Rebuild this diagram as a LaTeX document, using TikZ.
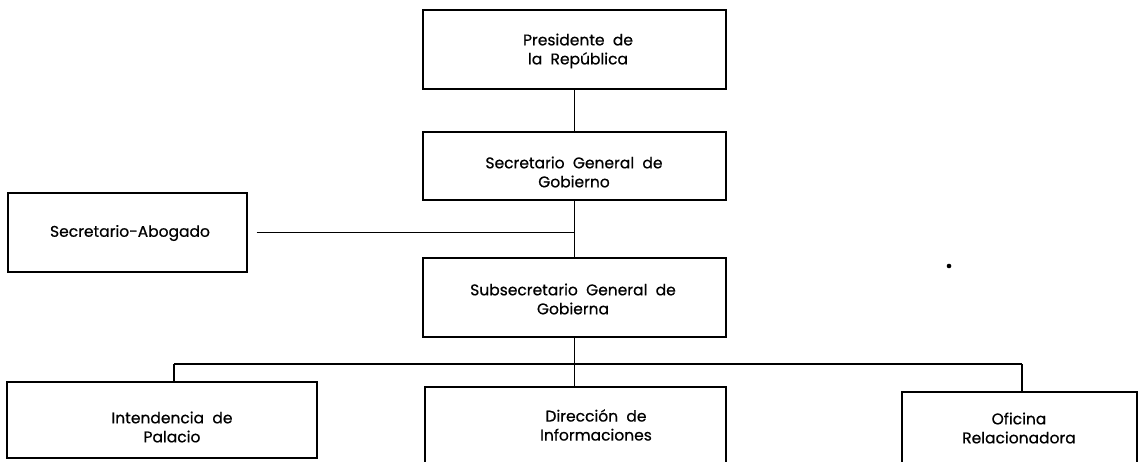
\documentclass[tikz,border=0pt]{standalone}
\usepackage{fontspec}
\setmainfont{Poppins}[FakeBold=0.6]
\begin{document}
\begin{tikzpicture}[x=1pt,y=-1pt,
  box/.style={draw=black, line width=1.1pt, rectangle, inner sep=0pt},
  lbl/.style={align=center, font=\fontsize{15.5}{19}\selectfont, inner sep=0pt},
  conn/.style={draw=black, line width=1.1pt}]
\useasboundingbox (0,0) rectangle (1145,462);
% boxes
\node[box, minimum width=303pt, minimum height=79pt] (pres) at (574.5,49.5) {};
\node[box, minimum width=303pt, minimum height=68pt] (sg) at (574.5,166) {};
\node[box, minimum width=239pt, minimum height=79pt] (abog) at (127.5,232.5) {};
\node[box, minimum width=303pt, minimum height=79pt] (sub) at (574.5,297.5) {};
\node[box, minimum width=310pt, minimum height=76pt] (int) at (162,420) {};
\node[box, minimum width=301pt, minimum height=113pt] (dir) at (575.5,443.5) {};
\node[box, minimum width=235pt, minimum height=108pt] (ofi) at (1019.5,446) {};
% labels
\node[lbl] (tpres) at (578,51) {Presidente\ \ de\\la\ \ República};
\node[lbl] (tsg) at (574,172) {Secretario\ \ General\ \ de\\Gobierno};
\node[lbl] (tabog) at (130,233) {Secretario-Abogado};
\node[lbl] (tsub) at (573,299) {Subsecretario\ \ General\ \ de\\Gobierna};
\node[lbl] (tint) at (172,427) {Intendencia\ \ de\\Palacio};
\node[lbl] (tdir) at (596,425) {Dirección\ \ de\\Informaciones};
\node[lbl] (tofi) at (1019,428) {Oficina\\Relacionadora};
% connectors
\coordinate (bl) at (174,364);
\coordinate (br) at (1022,364);
\draw[conn] (pres.south) -- (sg.north);
\draw[conn] (sg.south) -- (sub.north);
\draw[conn] ([xshift=9pt]abog.east) -- (abog.east -| sg.south);
\draw[conn] (sub.south) -- (sub.south |- dir.north);
\draw[conn] (bl) -- (br);
\draw[conn] (bl) -- (bl |- int.north);
\draw[conn] (br) -- (br |- ofi.north);
% stray dot
\fill (949,266) circle (2.3pt);
\end{tikzpicture}
\end{document}
